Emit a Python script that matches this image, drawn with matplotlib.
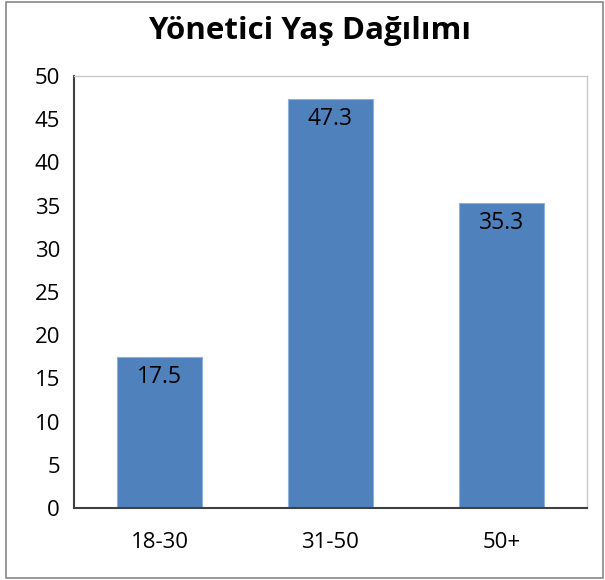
import matplotlib.pyplot as plt
from matplotlib.patches import Rectangle

# Datos
categorias = ['18-30', '31-50', '50+']
valores = [17.5, 47.3, 35.3]
etiquetas_y = [0, 5, 10, 15, 20, 25, 30, 35, 40, 45, 50]

plt.rcParams['font.family'] = ['Open Sans', 'DejaVu Sans']

fig = plt.figure(figsize=(6.05, 5.8), dpi=100)
ax = fig.add_axes([74 / 605, 1 - 508 / 580, (587 - 74) / 605, (508 - 76) / 580])

x = range(len(categorias))
bars = ax.bar(x, valores, width=0.5, color='#4F81BD', edgecolor='#8fb0d8', linewidth=0.8)

for xi, v in zip(x, valores):
    ax.text(xi, v - 0.9, f'{v}', ha='center', va='top', fontsize=16.5, color='black')

ax.set_xlim(-0.5, len(categorias) - 0.5)
ax.set_ylim(0, 50)
ax.set_yticks(etiquetas_y)
ax.set_xticks(list(x))
ax.set_xticklabels(categorias)
ax.tick_params(axis='both', length=0, labelsize=16)
ax.tick_params(axis='y', pad=10)
ax.tick_params(axis='x', pad=17)

for s in ['top', 'right']:
    ax.spines[s].set_color('#c8c8c8')
    ax.spines[s].set_linewidth(1)
for s in ['left', 'bottom']:
    ax.spines[s].set_color('#404040')
    ax.spines[s].set_linewidth(1.5)

fig.text(310 / 605, 1 - 31 / 580, 'Yönetici Yaş Dağılımı', ha='center', va='center',
         fontsize=22.5, fontweight='bold')

# Borde exterior
fig.patches.append(Rectangle((6 / 605, 2 / 580), 597 / 605, 576 / 580,
                             transform=fig.transFigure, fill=False,
                             edgecolor='#888888', linewidth=1.2))

fig.savefig('out.png', dpi=100)
